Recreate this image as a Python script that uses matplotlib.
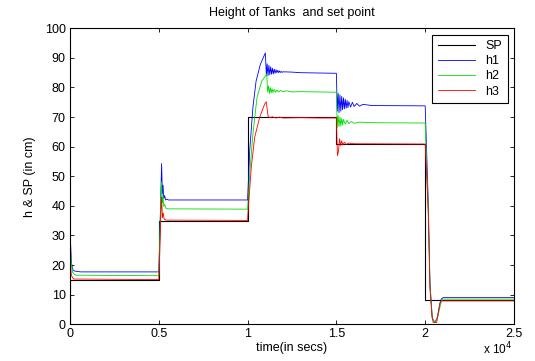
import numpy as np
import matplotlib
matplotlib.use("Agg")
import matplotlib.pyplot as plt

plt.rcParams['font.family'] = ['Liberation Sans', 'DejaVu Sans']

# set point
sp_t = [0, 0, 5000, 5000, 10000, 10000, 15000, 15000, 20000, 20000, 25000]
sp_v = [0, 15, 15, 35, 35, 70, 70, 61, 61, 8.2, 8.2]

# tank 1 (blue)
h1_t = [0, 40, 80, 150, 250, 600, 5000,
        5060, 5120, 5160, 5200, 5240, 5280, 5330, 5380, 5450, 5550, 10000,
        10120, 10300, 10480, 10720, 11000, 11060,
        11100, 11150, 11200, 11250, 11300, 11350, 11400, 11450, 11500, 11550,
        11600, 11650, 11700, 11750, 11800, 11850, 11900, 11950, 12000,
        12500, 13000, 15000,
        15050, 15100, 15150, 15200, 15250, 15300, 15350, 15400, 15450, 15500,
        15550, 15600, 15650, 15700, 15800, 15900, 16000, 16150, 16300, 16500,
        17000, 20000,
        20100, 20170, 20270, 20400, 20550, 20700, 20800, 20900, 21000, 25000]
h1_v = [0, 26.8, 21, 18.5, 18, 17.7, 17.7,
        30, 45, 54.3, 44, 47, 42.5, 43.5, 42, 42.3, 42, 42,
        58.7, 73.3, 82.2, 87.8, 91.7, 84,
        88, 84, 87.5, 84.3, 87, 84.5, 86.5, 84.6, 86.2, 84.8,
        86, 85, 85.8, 85, 85.6, 85.1, 85.4, 85.1, 85.3,
        85.2, 85, 84.8,
        72, 78, 71.5, 77.5, 72, 77, 72.5, 76.5, 72.8, 76,
        73, 75.6, 73.2, 75.2, 73.4, 75, 73.6, 74.6, 73.7, 74.3,
        73.9, 73.8,
        55, 42, 14, 2, 0.6, 2.5, 6, 8.5, 9.0, 9.0]

# tank 2 (green)
h2_t = [0, 40, 80, 150, 300, 5000,
        5060, 5120, 5160, 5200, 5240, 5280, 5330, 5400, 5500, 10000,
        10120, 10300, 10530, 10800, 11080, 11130,
        11180, 11230, 11280, 11330, 11380, 11430, 11500, 11570, 11650, 11750,
        11850, 12000, 12200, 12500, 13000, 15000,
        15050, 15100, 15150, 15200, 15250, 15300, 15350, 15400, 15500, 15600,
        15700, 15850, 16000, 16300, 17000, 20000,
        20100, 20170, 20270, 20400, 20550, 20700, 20820, 20920, 21020, 25000]
h2_v = [0, 23.5, 20, 17.5, 16.6, 16.4,
        30, 44, 48.1, 41, 43, 39.8, 40.5, 39.2, 39, 38.9,
        50.9, 64.3, 76.6, 82.2, 84.5, 78.5,
        80.5, 78, 80, 78.2, 79.6, 78.3, 79.4, 78.4, 79.2, 78.5,
        79, 78.6, 78.9, 78.5, 78.6, 78.4,
        66.5, 70.5, 66.8, 70, 67, 69.6, 67.3, 69.2, 67.6, 68.9,
        67.8, 68.5, 67.9, 68.3, 68.1, 68,
        50, 40, 13, 2, 0.6, 2.2, 5.5, 8, 8.5, 8.5]

# tank 3 (red)
h3_t = [0, 30, 80, 200, 5000,
        5060, 5120, 5160, 5200, 5250, 5300, 5400, 10000,
        10020, 10210, 10400, 10680, 10960, 11050, 11150, 11250, 11400, 11600,
        11800, 12000, 13000, 14000, 15000,
        15060, 15120, 15180, 15240, 15300, 15360, 15450, 15550, 15700, 16000,
        20000,
        20100, 20170, 20270, 20380, 20450, 20650, 20730, 20830, 20920, 25000]
h3_v = [0, 20, 16.5, 15.3, 15.1,
        25, 38, 43, 36, 37.6, 35.5, 35.2, 35.1,
        37.5, 53.1, 63.2, 69.9, 74.4, 75.2, 70.5, 69.8, 70.1, 69.7,
        70, 69.7, 69.8, 69.7, 69.7,
        57, 58.5, 62.7, 60.4, 62, 60.6, 61.5, 60.8, 61.2, 61,
        60.9,
        48, 38, 12, 3, 0.6, 0.6, 3.9, 7.3, 7.9, 7.9]

fig = plt.figure(figsize=(5.35, 3.61), dpi=100)
ax = fig.add_axes([0.1308, 0.1017, 0.8299, 0.8199])

ax.plot(sp_t, sp_v, color='k', lw=0.8, label='SP')
ax.plot(h1_t, h1_v, color='b', lw=0.6, label='h1')
ax.plot(h2_t, h2_v, color='#00dd00', lw=0.6, label='h2')
ax.plot(h3_t, h3_v, color='r', lw=0.6, label='h3')

ax.set_xlim(0, 25000)
ax.set_ylim(0, 100)
ax.set_xticks([0, 5000, 10000, 15000, 20000, 25000])
ax.set_xticklabels(['0', '0.5', '1', '1.5', '2', '2.5'])
ax.set_yticks(np.arange(0, 101, 10))
ax.tick_params(direction='in', top=True, right=True, labelsize=9, length=3, width=0.6, pad=3)
for s in ax.spines.values():
    s.set_linewidth(0.8)

ax.set_title('Height of Tanks  and set point', fontsize=9, pad=9)
ax.set_xlabel('time(in secs)', fontsize=9, labelpad=1)
ax.set_ylabel('h & SP (in cm)', fontsize=9, labelpad=6)
fig.text(0.93, 0.01, r'x 10$^{4}$', fontsize=8.5, ha='center', va='bottom')

leg = ax.legend(loc='upper right', fontsize=9, fancybox=False, framealpha=1,
                edgecolor='k', borderaxespad=0.5, handlelength=3.0,
                labelspacing=0.25, borderpad=0.45)
leg.get_frame().set_linewidth(0.8)

fig.savefig('out.png', dpi=100)
